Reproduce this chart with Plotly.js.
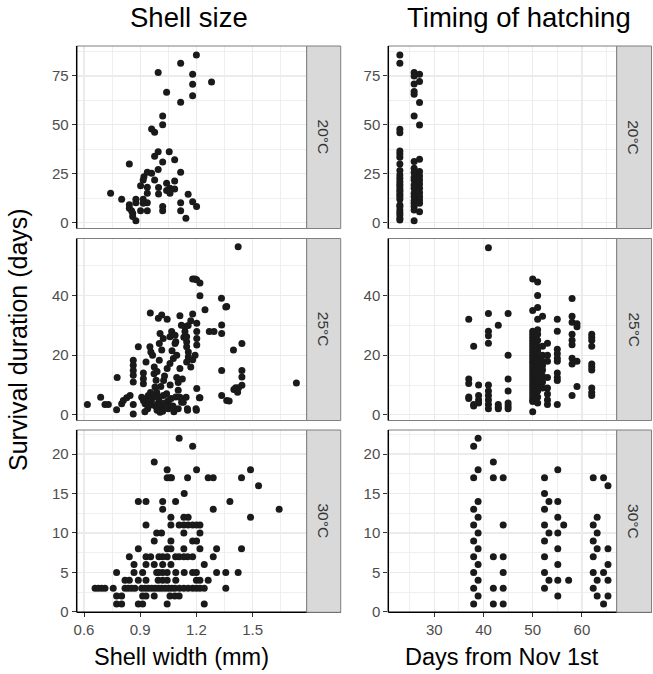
<!DOCTYPE html>
<html><head><meta charset="utf-8">
<script src="https://cdn.plot.ly/plotly-3.0.1.min.js"></script>
<style>html,body{margin:0;padding:0;background:#fff}#chart{width:653px;height:674px}</style>
</head><body><div id="chart"></div>
<script>
const columnTitles = ['Shell size', 'Timing of hatching'];
const xTitles = ['Shell width (mm)', 'Days from Nov 1st'];
const yTitle = 'Survival duration (days)';
const tempLabels = ['20°C', '25°C', '30°C'];
const shellTicks = [0.6, 0.9, 1.2, 1.5];
const dayTicks = [30, 40, 50, 60];
const survTicks20 = [0, 25, 50, 75];
const survTicks25 = [0, 20, 40];
const survTicks30 = [0, 5, 10, 15, 20];

// [shell width (mm), survival (days)] at 20°C
const shell20 = [[1.20,85.7],[1.116,81.5],[0.996,76.7],[1.18,75.8],[1.281,71.9],[1.18,70.7],[1.041,66.6],[1.18,64.9],[1.116,61.5],[1.02,54.5],[1.02,50.1],[0.961,47.9],[0.977,46.2],[0.996,36.3],[0.977,33.9],[1.055,36.3],[1.02,31.0],[1.084,32.2],[0.842,30.0],[1.116,25.7],[0.996,27.1],[0.938,25.7],[0.961,25.2],[0.92,23.5],[0.916,21.8],[0.977,21.8],[1.084,21.3],[0.902,18.9],[0.938,18.1],[1.041,20.1],[0.998,17.9],[1.059,17.6],[1.041,16.4],[1.084,17.2],[0.938,15.0],[0.998,14.7],[1.059,15.0],[0.742,15.0],[1.156,14.5],[0.801,11.9],[0.877,11.9],[0.916,11.9],[0.938,10.2],[0.842,9.2],[0.877,10.2],[1.116,10.2],[1.18,10.7],[0.842,7.3],[0.902,6.1],[0.938,6.1],[1.02,8.2],[1.02,6.1],[1.116,6.1],[1.201,8.2],[0.86,4.8],[0.86,3.1],[1.144,2.2],[0.877,1.0],[0.916,9.9],[0.854,6.1]];
// [days from Nov 1st, survival (days)] at 20°C
const hatch20 = [[23,85.7],[23,81.5],[23,47.7],[23,46.0],[23,36.6],[23,35.1],[23,33.4],[23,30.0],[23,26.6],[23,24.4],[23,22.7],[23,21.0],[23,19.6],[23,18.4],[23,17.0],[23,15.9],[23,14.5],[23,13.3],[23,11.9],[23,9.0],[23,8.2],[23,6.5],[23,5.1],[23,3.9],[23,2.2],[23,1.4],
[25.9,76.7],[25.9,75.0],[25.9,70.9],[25.9,67.0],[25.9,65.6],[25.9,54.5],[25.9,31.2],[25.9,27.8],[25.9,25.6],[25.9,23.2],[25.9,21.8],[25.9,19.3],[25.9,17.6],[25.9,15.0],[25.9,13.3],[25.9,11.2],[25.9,9.9],[25.9,8.2],[25.9,6.5],[25.9,0.9],
[27,75.8],[27,72.1],[27,61.4],[27,49.9],[27,32.4],[27,26.1],[27,23.9],[27,21.8],[27,19.8],[27,17.6],[27,15.3],[27,13.3],[27,11.6],[27,9.9],[27,5.6]];
// 25°C
const shell25 = [[0.618,3.5],[0.689,5.9],[0.712,3.5],[0.730,3.5],[0.774,1.7],[0.777,12.5],[0.801,3.7],[0.810,4.8],[0.828,5.7],[0.846,6.5],[0.863,0.3],[0.863,3.5],[0.863,18.3],[0.863,16.6],[0.863,14.9],[0.863,13.3],[0.863,11.0],[0.890,22.8],
[0.908,5.9],[0.917,4.8],[0.926,3.7],[0.935,5.2],[0.943,6.5],[0.917,14.0],[0.917,12.1],[0.917,10.4],[0.931,17.7],[0.952,22.8],[0.957,21.1],[0.966,20.0],[0.954,34.1],
[0.974,13.8],[0.985,11.6],[0.979,9.3],[0.988,7.6],[0.997,5.9],[0.997,3.9],[1.006,2.6],[1.006,0.9],[1.002,18.3],[1.015,21.7],[1.002,23.9],[1.023,25.6],[1.006,27.3],
[0.997,32.4],[1.015,33.5],[1.044,32.0],[1.023,6.5],[1.041,7.1],[1.050,4.8],[1.059,3.1],[1.050,2.0],[1.044,15.5],[1.059,17.2],[1.077,18.9],[1.095,20.0],
[1.059,26.2],[1.068,27.9],[1.086,26.7],[1.086,23.9],[1.095,12.5],[1.103,10.8],[1.112,15.5],[1.103,8.2],[1.112,5.9],[1.121,4.2],[1.103,2.0],[1.112,33.2],
[1.139,29.5],[1.139,27.9],[1.148,26.2],[1.148,24.5],[1.148,22.8],[1.157,21.1],[1.157,19.4],[1.148,17.7],[1.130,4.2],[1.145,5.9],[1.152,2.0],
[1.180,33.8],[1.202,30.7],[1.202,27.9],[1.202,25.6],[1.202,23.4],[1.193,20.0],[1.202,8.8],[1.216,5.7],[1.198,2.0],
[1.246,35.2],[1.269,27.9],[1.294,27.9],[1.335,30.1],[1.335,27.3],[1.335,14.9],[1.335,6.5],[1.362,36.3],[1.362,4.8],
[1.423,56.3],[1.180,45.5],[1.192,45.5],[1.201,45.3],[1.219,44.2],[1.219,39.9],[1.334,39.1],[1.357,36.1],[1.398,21.7],[1.443,23.9],[1.443,14.9],[1.443,12.7],[1.443,9.9],[1.425,9.1],[1.410,9.1],[1.400,8.5],[1.420,7.6],[1.734,10.7],[1.375,4.6],[1.219,5.7],[1.153,1.5],[1.200,1.5],
[0.96,4.5],[0.98,3.0],[0.99,1.5],[1.0,5.0],[1.01,3.5],[1.02,1.2],[1.03,4.0],[1.035,2.5],[0.97,6.0],[0.95,3.2],[0.94,2.0],[1.065,5.5],[1.075,3.0],[1.08,1.0],[1.09,6.0],[0.925,1.0],[0.955,7.5],[1.01,9.5],[1.025,11.5],[0.99,14.5],[0.975,16.0],[1.03,13.0],[1.06,10.0],[1.07,21.5],[1.09,24.5],[1.12,30.0],[1.17,31.5],[1.17,16.0],[1.18,18.5],[1.125,12.0],[1.156,29.9],[1.133,26.0]];
const hatch25 = [[37,32],[37,12],[37,10.5],[37,6],[37,5.5],[38,23],[38,3],[38,3.5],[39,10],[39,6.5],[39,5],[39,4],
[41,56],[41,34],[41,28],[41,26.5],[41,24],[41,10],[41,8],[41,6.5],[41,5],[41,3.5],[41,2],
[43,30],[43,3.5],[43,2.5],[43,2],[45,34],[45,20],[45,12],[45,8],[45,4],[45,3],[45,2],
[50,45.5],[50,35],[50,1],[50,28],[50,27],[50,26],[50,25],[50,24],[50,23],[50,22],[50,21],[50,20],[50,19],[50,18],[50,17],[50,16],[50,15],[50,14],[50,13],[50,12],[50,11],[50,10],[50,9],[50,8],[50,7],[50,6],[50,5],[50,4.5],
[51,44.5],[51,40],[51,36],[51,32],[51,28.5],[51,27],[51,25],[51,23],[51,21.5],[51,20],[51,18.5],[51,17],[51,15],[51,13.5],[51,12],[51,10],[51,8],[51,6],[51,4],
[52,33],[52,23],[52,20],[52,18],[52,16.5],[52,15],[52,13],[52,11],[52,9],
[53,24],[53,20],[53,18],[53,12.5],[53,9],[53,7],[53,5],[53,3.5],
[55,32],[55,28],[55,22],[55,20.5],[55,19],[55,18],[55,14],[55,12.5],[55,11.5],[55,3.5],
[58,39],[58,33],[58,31],[58,27],[58,25],[58,23.5],[58,19],[58,17],[58,6.5],
[59,30.5],[59,29.5],[59,18],[59,9.5],
[62,27],[62,26],[62,25],[62,23],[62,17],[62,16],[62,15],[62,9],[62,7.5],[62,6.5]];
// 30°C
const shell30 = [[1.108,22],[1.18,21],[0.975,19],[1.044,18],[1.201,18],[1.489,18],[1.044,17],[1.059,17],[1.067,17],[1.153,17],[1.263,17],[1.29,17],[1.441,17],[1.532,16],[1.135,15],
[0.89,14],[0.931,14],[1.02,14],[1.089,14],[1.379,14],[1.02,13],[1.29,13],[1.642,13],[1.064,12],[1.133,12],[1.156,12],[1.489,12],
[0.931,11],[1.064,11],[1.108,11],[1.133,11],[1.156,11],[1.18,11],[1.201,11],[1.219,11],[0.988,10],[1.014,10],[1.133,10],[1.219,10],
[0.975,9],[1.064,9],[1.18,9],[1.201,9],[0.89,8],[1.044,8],[1.064,8],[1.133,8],[1.219,8],[1.308,8],[1.441,8],
[0.842,7],[0.931,7],[0.956,7],[1.0,7],[1.02,7],[1.044,7],[1.089,7],[1.108,7],[1.133,7],[1.153,7],[1.18,7],[1.29,7],
[0.867,6],[0.931,6],[0.975,6],[1.02,6],[1.064,6],[1.242,6],
[0.774,5],[0.867,5],[0.913,5],[0.988,5],[1.0,5],[1.02,5],[1.044,5],[1.09,5],[1.135,5],[1.18,5],[1.2,5],[1.308,5],[1.357,5],[1.423,5],
[0.819,4],[0.842,4],[0.89,4],[0.931,4],[0.996,4],[1.02,4],[1.044,4],[1.09,4],[1.2,4],[1.219,4],[1.263,4],
[0.659,3],[0.676,3],[0.694,3],[0.712,3],[0.756,3],[0.819,3],[0.836,3],[0.854,3],[0.872,3],[0.908,3],[0.926,3],[0.944,3],[0.962,3],[0.980,3],[0.998,3],[1.015,3],[1.033,3],[1.051,3],[1.069,3],[1.086,3],[1.11,3],[1.133,3],[1.156,3],[1.18,3],[1.2,3],[1.219,3],[1.242,3],[1.357,3],
[0.774,2],[0.801,2],[0.913,2],[0.931,2],[0.975,2],[1.059,2],[1.085,2],[1.108,2],
[0.774,1],[0.801,1],[0.89,1],[0.913,1],[1.044,1],[1.242,1]];
const hatch30 = [[38,21],[38,17],[38,13],[38,11],[38,9],[38,7],[38,5],[38,3],[38,1],
[38.9,22],[38.9,18],[38.9,14],[38.9,12],[38.9,10],[38.9,8],[38.9,6],[38.9,4],[38.9,2],
[42,19],[42,17],[42,7],[42,3],[42,1],[44,17],[44,11],[44,7],[44,5],[44,3],[44,1],
[52.4,17],[52.4,15],[52.4,13],[52.4,11],[52.4,9],[52.4,7],[52.4,5],[52.4,3],[53.3,14],[53.3,10],[53.3,4],
[55.1,18],[55.1,14],[55.1,12],[55.1,10],[55.1,8],[55.1,6],[55.1,4],[55.1,2],[56.3,11],[57.3,4],
[62.3,17],[62.3,11],[62.3,9],[62.3,7],[62.3,5],[62.3,3],[63.1,12],[63.1,10],[63.1,8],[63.1,4],[63.1,2],
[64.4,17],[64.4,5],[64.4,1],[65.3,16],[65.3,8],[65.3,6],[65.3,4],[65.3,2]];

const panels = [[shell20, hatch20], [shell25, hatch25], [shell30, hatch30]];
const yTicks = [survTicks20, survTicks25, survTicks30];

// ---- layout geometry (pixels) ----
const W = 653, H = 674;
const colPx = [[76.7, 306.7], [388.3, 616.7]];
const stripPx = [[306.7, 340.7], [616.7, 651.5]];
const rowPx = [[46, 228.5], [238.5, 420.5], [430, 612.3]];
const xRanges = [[0.561, 1.789], [20.65, 67.07]];
const yRanges = [[-3.0, 90.3], [-1.9, 59.1], [-0.05, 23.05]];
const yMinor = [12.5, 10, 2.5];
const xMinor = [0.15, 5];
const fx = p => p / W, fy = p => 1 - p / H;
const FONT = 'Liberation Sans, Arial, sans-serif';
const GRID = '#EBEBEB', BORDER = '#7F7F7F';

const data = [], layout = {
  width: W, height: H, margin: {l: 0, r: 0, t: 0, b: 0},
  paper_bgcolor: '#fff', plot_bgcolor: '#fff', showlegend: false,
  font: {family: FONT, color: '#000'}, shapes: [], annotations: []
};

for (let r = 0; r < 3; r++) {
  for (let c = 0; c < 2; c++) {
    const k = r * 2 + c + 1;
    const sfx = k === 1 ? '' : String(k);
    const pts = panels[r][c];
    data.push({
      type: 'scatter', mode: 'markers',
      x: pts.map(p => p[0]), y: pts.map(p => p[1]),
      xaxis: 'x' + sfx, yaxis: 'y' + sfx,
      marker: {size: 7, color: '#1A1A1A', line: {width: 0}},
      hoverinfo: 'x+y'
    });
    const bottom = r === 2;
    layout['xaxis' + sfx] = {
      domain: [fx(colPx[c][0]), fx(colPx[c][1])], anchor: 'y' + sfx,
      range: xRanges[c], tickmode: 'array', tickvals: c === 0 ? shellTicks : dayTicks,
      ticktext: (c === 0 ? shellTicks.map(v => v.toFixed(1)) : dayTicks.map(String)),
      showgrid: true, gridcolor: GRID, gridwidth: 1.2, zeroline: false, showline: false,
      minor: {dtick: xMinor[c], tick0: c === 0 ? 0.6 : 30, showgrid: true, gridcolor: GRID, gridwidth: 0.8},
      ticks: bottom ? 'outside' : '', ticklen: 4, tickwidth: 1, tickcolor: '#333',
      showticklabels: bottom, tickfont: {family: FONT, size: 15, color: '#4D4D4D'},
      fixedrange: true
    };
    layout['yaxis' + sfx] = {
      domain: [fy(rowPx[r][1]), fy(rowPx[r][0])], anchor: 'x' + sfx,
      range: yRanges[r], tickmode: 'array', tickvals: yTicks[r],
      showgrid: true, gridcolor: GRID, gridwidth: 1.2, zeroline: false, showline: false,
      minor: {dtick: yMinor[r], tick0: 0, showgrid: true, gridcolor: GRID, gridwidth: 0.8},
      ticks: 'outside', ticklen: 4, tickwidth: 1, tickcolor: '#333',
      tickfont: {family: FONT, size: 15, color: '#4D4D4D'}, fixedrange: true
    };
    const x0 = fx(colPx[c][0]), x1 = fx(colPx[c][1]);
    const y0 = fy(rowPx[r][1]), y1 = fy(rowPx[r][0]);
    const L = (a, b, cc, d, col, w) => layout.shapes.push({type: 'line', xref: 'paper', yref: 'paper', x0: a, y0: b, x1: cc, y1: d, line: {color: col, width: w}});
    L(x0, y1, x1, y1, BORDER, 1);
    L(x1, y0, x1, y1, BORDER, 1);
    if (!bottom) L(x0, y0, x1, y0, BORDER, 1);
    else L(x0, y0, fx(stripPx[c][1]), y0, '#000', 1.5);
    L(x0, y0, x0, y1, '#000', 1.5);
    // strip
    layout.shapes.push({type: 'rect', xref: 'paper', yref: 'paper',
      x0: fx(stripPx[c][0]), x1: fx(stripPx[c][1]), y0: y0, y1: y1,
      fillcolor: '#D9D9D9', line: {color: BORDER, width: 1}});
    layout.annotations.push({xref: 'paper', yref: 'paper',
      x: fx((stripPx[c][0] + stripPx[c][1]) / 2), y: fy((rowPx[r][0] + rowPx[r][1]) / 2),
      text: tempLabels[r], textangle: 90, showarrow: false, xanchor: 'center', yanchor: 'middle',
      font: {family: FONT, size: 15.5, color: '#333'}});
  }
}
// column titles
layout.annotations.push({xref: 'paper', yref: 'paper', x: fx(189), y: fy(17), text: columnTitles[0], showarrow: false, xanchor: 'center', yanchor: 'middle', font: {family: FONT, size: 27.5, color: '#000'}});
layout.annotations.push({xref: 'paper', yref: 'paper', x: fx(519), y: fy(17), text: columnTitles[1], showarrow: false, xanchor: 'center', yanchor: 'middle', font: {family: FONT, size: 27.5, color: '#000'}});
// axis titles
layout.annotations.push({xref: 'paper', yref: 'paper', x: fx(181), y: fy(657), text: xTitles[0], showarrow: false, xanchor: 'center', yanchor: 'middle', font: {family: FONT, size: 23.5, color: '#000'}});
layout.annotations.push({xref: 'paper', yref: 'paper', x: fx(502), y: fy(657), text: xTitles[1], showarrow: false, xanchor: 'center', yanchor: 'middle', font: {family: FONT, size: 23.5, color: '#000'}});
layout.annotations.push({xref: 'paper', yref: 'paper', x: fx(18), y: fy(340), text: yTitle, textangle: -90, showarrow: false, xanchor: 'center', yanchor: 'middle', font: {family: FONT, size: 25, color: '#000'}});

Plotly.newPlot('chart', data, layout, {staticPlot: true, displayModeBar: false});
</script></body></html>
